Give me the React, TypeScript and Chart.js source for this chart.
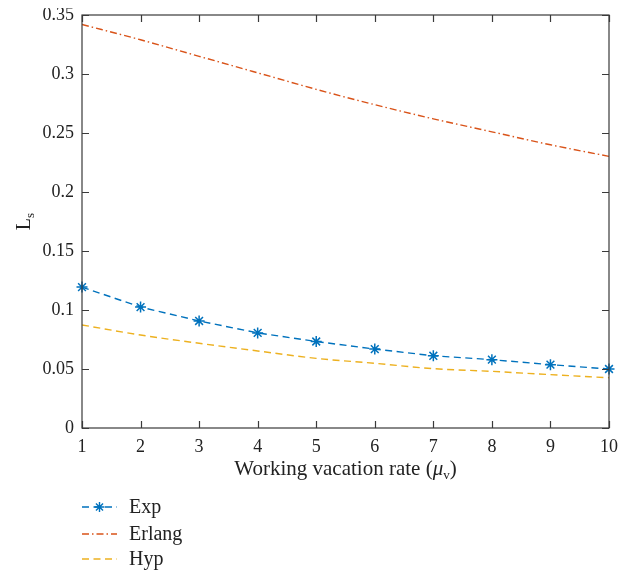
import React, { useEffect, useRef } from "react";
import { Chart, registerables } from "chart.js";

Chart.register(...registerables);

const xValues = [1, 2, 3, 4, 5, 6, 7, 8, 9, 10];
const expValues = [0.1194, 0.1025, 0.0907, 0.0806, 0.0733, 0.0669, 0.0612, 0.0579, 0.0537, 0.05];
const erlangValues = [0.342, 0.329, 0.315, 0.301, 0.287, 0.274, 0.262, 0.251, 0.24, 0.2302];
const hypValues = [0.0873, 0.0788, 0.0718, 0.0653, 0.059, 0.0548, 0.0503, 0.048, 0.0452, 0.0426];
const yTicks = [0, 0.05, 0.1, 0.15, 0.2, 0.25, 0.3, 0.35];
const seriesNames = ["Exp", "Erlang", "Hyp"];

const BLUE = "#0072BD";
const ORANGE = "#D95319";
const YELLOW = "#EDB120";
const FONT = "'Liberation Serif', 'DejaVu Serif', serif";
const DASH = [7, 4.5];
const DASHDOT = [7, 3, 1.5, 3];

const framePlugin = {
  id: "frame",
  afterDraw(chart: any) {
    const ctx = chart.ctx;
    const { left, right, top, bottom } = chart.chartArea;
    const xs = chart.scales.x;
    const ys = chart.scales.y;
    ctx.save();
    ctx.strokeStyle = "#3a3a3a";
    ctx.lineWidth = 1.2;
    ctx.setLineDash([]);
    ctx.strokeRect(left, top, right - left, bottom - top);
    const tl = 7;
    ctx.beginPath();
    xValues.forEach((v) => {
      const px = Math.round(xs.getPixelForValue(v)) + 0.5;
      ctx.moveTo(px, bottom);
      ctx.lineTo(px, bottom - tl);
      ctx.moveTo(px, top);
      ctx.lineTo(px, top + tl);
    });
    yTicks.forEach((v) => {
      const py = Math.round(ys.getPixelForValue(v)) + 0.5;
      ctx.moveTo(left, py);
      ctx.lineTo(left + tl, py);
      ctx.moveTo(right, py);
      ctx.lineTo(right - tl, py);
    });
    ctx.stroke();

    // x title
    ctx.fillStyle = "#222";
    ctx.textBaseline = "alphabetic";
    const cx = (left + right) / 2;
    const baseY = bottom + 47;
    const main = "Working vacation rate (";
    ctx.font = `21px ${FONT}`;
    const wMain = ctx.measureText(main).width;
    ctx.font = `italic 21px ${FONT}`;
    const wMu = ctx.measureText("μ").width;
    ctx.font = `13px ${FONT}`;
    const wV = ctx.measureText("v").width;
    ctx.font = `21px ${FONT}`;
    const wClose = ctx.measureText(")").width;
    const total = wMain + wMu + wV + wClose;
    let x0 = cx - total / 2;
    ctx.textAlign = "left";
    ctx.font = `21px ${FONT}`;
    ctx.fillText(main, x0, baseY);
    x0 += wMain;
    ctx.font = `italic 21px ${FONT}`;
    ctx.fillText("μ", x0, baseY);
    x0 += wMu;
    ctx.font = `13px ${FONT}`;
    ctx.fillText("v", x0, baseY + 4);
    x0 += wV;
    ctx.font = `21px ${FONT}`;
    ctx.fillText(")", x0, baseY);

    // y title
    ctx.save();
    ctx.translate(30, (top + bottom) / 2);
    ctx.rotate(-Math.PI / 2);
    ctx.font = `20px ${FONT}`;
    const wL = ctx.measureText("L").width;
    ctx.font = `13px ${FONT}`;
    const wS = ctx.measureText("s").width;
    const tw = wL + wS;
    ctx.font = `20px ${FONT}`;
    ctx.fillText("L", -tw / 2, 0);
    ctx.font = `13px ${FONT}`;
    ctx.fillText("s", -tw / 2 + wL, 4);
    ctx.restore();

    // legend
    const rows = [
      { name: seriesNames[0], color: BLUE, dash: DASH, marker: true },
      { name: seriesNames[1], color: ORANGE, dash: DASHDOT, marker: false },
      { name: seriesNames[2], color: YELLOW, dash: DASH, marker: false },
    ];
    const lx0 = 82;
    const lx1 = 117;
    const rowY = [507, 534, 559];
    rows.forEach((r, i) => {
      const y = rowY[i];
      ctx.strokeStyle = r.color;
      ctx.lineWidth = 1.4;
      ctx.setLineDash(r.dash);
      ctx.beginPath();
      ctx.moveTo(lx0, y);
      ctx.lineTo(lx1, y);
      ctx.stroke();
      ctx.setLineDash([]);
      if (r.marker) {
        const mx = (lx0 + lx1) / 2;
        const rr = 5;
        ctx.beginPath();
        ctx.moveTo(mx - rr, y);
        ctx.lineTo(mx + rr, y);
        ctx.moveTo(mx, y - rr);
        ctx.lineTo(mx, y + rr);
        const d = rr * 0.7071;
        ctx.moveTo(mx - d, y - d);
        ctx.lineTo(mx + d, y + d);
        ctx.moveTo(mx - d, y + d);
        ctx.lineTo(mx + d, y - d);
        ctx.stroke();
      }
      ctx.fillStyle = "#222";
      ctx.font = `20px ${FONT}`;
      ctx.textAlign = "left";
      ctx.textBaseline = "middle";
      ctx.fillText(r.name, 129, y + 1);
    });
    ctx.restore();
  },
};

export default function App() {
  const ref = useRef<HTMLCanvasElement | null>(null);
  useEffect(() => {
    if (!ref.current) return;
    const chart = new Chart(ref.current, {
      type: "line",
      data: {
        labels: xValues,
        datasets: [
          {
            label: seriesNames[0],
            data: xValues.map((x, i) => ({ x, y: expValues[i] })),
            borderColor: BLUE,
            backgroundColor: BLUE,
            borderWidth: 1.4,
            borderDash: DASH,
            pointStyle: "star",
            pointRadius: 5.5,
            pointBorderWidth: 1.5,
            pointBorderColor: BLUE,
            tension: 0,
            clip: false,
          },
          {
            label: seriesNames[1],
            data: xValues.map((x, i) => ({ x, y: erlangValues[i] })),
            borderColor: ORANGE,
            borderWidth: 1.4,
            borderDash: DASHDOT,
            pointRadius: 0,
            tension: 0.4,
            cubicInterpolationMode: "monotone",
          },
          {
            label: seriesNames[2],
            data: xValues.map((x, i) => ({ x, y: hypValues[i] })),
            borderColor: YELLOW,
            borderWidth: 1.4,
            borderDash: DASH,
            pointRadius: 0,
            tension: 0.4,
            cubicInterpolationMode: "monotone",
          },
        ],
      },
      options: {
        responsive: false,
        animation: false,
        layout: { padding: { top: 15, right: 23, left: 0, bottom: 0 } },
        plugins: { legend: { display: false }, tooltip: { enabled: false } },
        scales: {
          x: {
            type: "linear",
            min: 1,
            max: 10,
            afterFit: (s: any) => {
              s.height = 150;
              s.paddingLeft = 0;
              s.paddingRight = 0;
            },
            afterBuildTicks: (s: any) => {
              s.ticks = xValues.map((v) => ({ value: v }));
            },
            grid: { display: false, drawTicks: false },
            border: { display: false },
            ticks: {
              padding: 8,
              color: "#222",
              font: { family: FONT, size: 18 },
              maxRotation: 0,
              autoSkip: false,
            },
          },
          y: {
            type: "linear",
            min: 0,
            max: 0.35,
            afterFit: (s: any) => {
              s.width = 82;
              s.paddingTop = 0;
              s.paddingBottom = 0;
            },
            afterBuildTicks: (s: any) => {
              s.ticks = yTicks.map((v) => ({ value: v }));
            },
            grid: { display: false, drawTicks: false },
            border: { display: false },
            ticks: {
              padding: 8,
              color: "#222",
              font: { family: FONT, size: 18 },
              callback: (v: any) => String(+Number(v).toFixed(2)),
            },
          },
        },
      },
      plugins: [framePlugin],
    });
    return () => chart.destroy();
  }, []);
  return (
    <div style={{ margin: -8, width: 632, height: 578, overflow: "hidden" }}>
      <canvas ref={ref} width={632} height={578} style={{ display: "block" }} />
    </div>
  );
}
